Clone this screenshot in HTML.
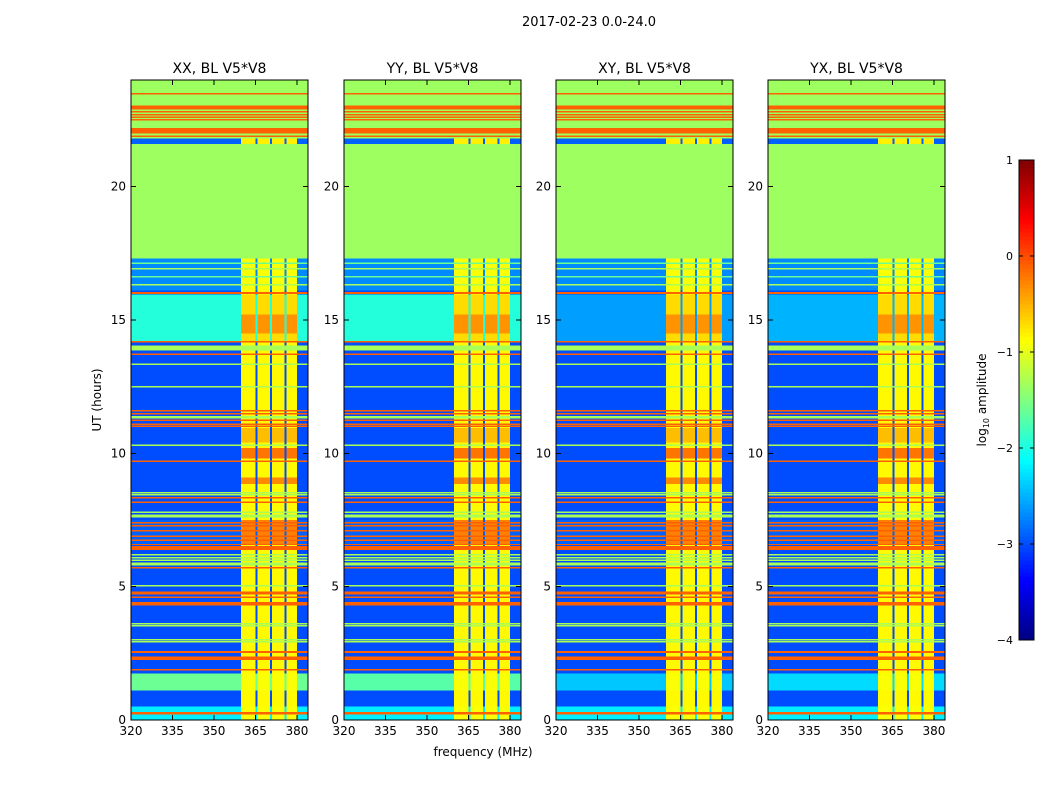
<!DOCTYPE html>
<html><head><meta charset="utf-8">
<style>
body{margin:0;background:#fff;}
svg{display:block;font-family:"DejaVu Sans","Liberation Sans",sans-serif;}
</style></head>
<body>
<svg id="fig" width="1050" height="800" viewBox="0 0 1050 800">
<text x="589" y="26" font-size="13" text-anchor="middle">2017-02-23 0.0-24.0</text>
<text x="483" y="756" font-size="12" text-anchor="middle">frequency (MHz)</text>
<text x="101" y="400" font-size="12" text-anchor="middle" transform="rotate(-90 101 400)">UT (hours)</text>
<g id="panels" shape-rendering="crispEdges"></g>
<g id="cbar"></g>
</svg>
<script>
// ---- data ----
const panelTitles = ["XX, BL V5*V8","YY, BL V5*V8","XY, BL V5*V8","YX, BL V5*V8"];
const xTicks = [320,335,350,365,380];
const yTicks = [0,5,10,15,20];
const cbTicks = [1,0,-1,-2,-3,-4];
const cbTickLabels = ["1","0","\u22121","\u22122","\u22123","\u22124"];
// per-panel values for regions that differ between polarisations
const cyanUpper = [-1.95,-1.95,-2.6,-2.5];
const cyanLower = [-1.6,-1.7,-2.4,-2.3];
// frequency groups: [f0, f1, kind] kind 'hi' = bright RFI columns
const freqGroups = [[320,359.8,"bg"],[359.8,365,"hi"],[365,365.8,"bg"],[365.8,370.2,"hi"],[370.2,371,"bg"],[371,375.5,"hi"],[375.5,376.3,"bg"],[376.3,380,"hi"],[380,384,"bg"]];
// time bands: [t0, t1, backgroundValue, brightColumnValue] (log10 amplitude)
const bands = [
[0,17.3,-3.0,-0.85],[17.3,24,-1.35,-1.35],
[0,0.5,-2.2,-0.9],[0.2,0.3,-0.1,-0.1],[1.1,1.75,"L",-0.9],[1.85,1.92,-0.1,-0.1],
[2.25,2.38,-0.1,-0.1],[2.52,2.58,-0.1,-0.1],[2.93,2.97,-1.3,-1.3],[3.0,3.04,-1.3,-1.3],
[3.52,3.56,-1.3,-1.3],[3.6,3.64,-1.3,-1.3],[4.3,4.42,-0.1,-0.1],[4.58,4.64,-0.1,-0.1],[4.7,4.82,-0.1,-0.1],
[5.03,5.07,-1.3,-1.3],[5.68,5.74,-0.1,-0.1],[5.8,5.9,-1.3,-1.3],[5.98,6.02,-1.3,-1.3],[6.08,6.12,-1.3,-1.3],[6.18,6.22,-1.3,-1.3],
[6.38,6.52,-0.1,-0.1],[6.58,6.62,-0.1,-0.1],[6.6,7.5,-2.9,-0.25],[6.73,6.77,-0.1,-0.1],[6.88,6.92,-0.1,-0.1],
[7.08,7.12,-0.1,-0.1],[7.28,7.32,-0.1,-0.1],[7.38,7.42,-0.1,-0.1],[7.6,7.7,-1.3,-1.3],[7.78,7.82,-1.3,-1.3],
[8.15,8.19,-0.1,-0.1],[8.3,8.36,-0.1,-0.1],[8.45,8.48,-1.3,-1.3],[8.52,8.55,-1.3,-1.3],[8.85,9.1,-3.0,-0.3],
[9.7,9.74,-0.1,-0.1],[9.8,10.2,-3.0,-0.2],[10.3,10.34,-1.3,-1.3],[10.4,10.95,-3.0,-0.55],
[10.98,11.04,-0.1,-0.1],[11.08,11.12,-0.1,-0.1],[11.23,11.27,-0.1,-0.1],[11.3,11.4,-1.3,-1.3],
[11.45,11.52,-0.1,-0.1],[11.58,11.62,-0.1,-0.1],[12.48,12.52,-1.3,-1.3],[13.33,13.37,-1.3,-1.3],
[13.68,13.74,-0.1,-0.1],[13.85,14.05,-1.3,-1.3],[14.15,14.22,-0.1,-0.1],[14.22,15.95,"U",-0.7],
[14.5,15.2,"U",-0.35],[15.98,16.05,-0.1,-0.1],[16.1,17.3,-2.7,-0.9],[16.3,16.35,-1.3,-1.3],
[16.6,16.65,-1.6,-1.6],[16.9,16.95,-1.3,-1.3],[17.1,17.15,-1.6,-1.6],
[21.6,21.8,-2.9,-0.8],[21.87,21.92,-0.1,-0.1],[22.0,22.2,-0.1,-0.1],[22.5,22.53,-0.1,-0.1],
[22.6,22.63,-0.1,-0.1],[22.7,22.73,-0.1,-0.1],[22.8,22.83,-0.1,-0.1],[22.9,23.05,-0.1,-0.1],[23.48,23.52,-0.1,-0.1]
];
// ---- layout ----
const NS="http://www.w3.org/2000/svg";
const panelLeft=[131,344,556,768], PW=177, PT=80, PB=720;
const fMin=320,fMax=384,tMin=0,tMax=24,vMin=-4,vMax=1;
function yOf(t){return PB-(t-tMin)/(tMax-tMin)*(PB-PT);}
function xOf(p,f){return panelLeft[p]+(f-fMin)/(fMax-fMin)*PW;}
function clamp(a){return Math.max(0,Math.min(1,a));}
function jet(v){const n=clamp((v-vMin)/(vMax-vMin));
 const r=clamp(1.5-Math.abs(4*n-3)),g=clamp(1.5-Math.abs(4*n-2)),b=clamp(1.5-Math.abs(4*n-1));
 return `rgb(${Math.round(r*255)},${Math.round(g*255)},${Math.round(b*255)})`;}
function mk(tag,attrs,parent){const e=document.createElementNS(NS,tag);for(const k in attrs)e.setAttribute(k,attrs[k]);parent.appendChild(e);return e;}
const G=document.getElementById("panels");
panelTitles.forEach((title,p)=>{
 const g=mk("g",{},G);
 
 
 bands.forEach(b=>{
  let bg=b[2]; if(bg==="U")bg=cyanUpper[p]; if(bg==="L")bg=cyanLower[p];
  const y1=yOf(b[1]),y0=yOf(b[0]);
  const h=Math.max(1.5,y0-y1);
  freqGroups.forEach(fg=>{
   const v=fg[2]==="hi"?b[3]:bg;
   const x0=xOf(p,fg[0]),x1=xOf(p,fg[1]);
   const r=mk("rect",{x:x0.toFixed(2),y:y1.toFixed(2),width:(x1-x0+0.3).toFixed(2),height:h.toFixed(2),fill:jet(v)},g);
   
   
  });
 });
 const L=panelLeft[p];
 const fr=mk("rect",{x:L,y:PT,width:PW,height:PB-PT,fill:"none",stroke:"#000","stroke-width":1},g);
 
 
 const tt=mk("text",{x:L+PW/2,y:PT-7,"font-size":14,"text-anchor":"middle"},g);
 tt.textContent=title;
 
 
 xTicks.forEach((f,i)=>{
  const x=xOf(p,f);
  mk("line",{x1:x,y1:PB,x2:x,y2:PB-5,stroke:"#000"},g);
  mk("line",{x1:x,y1:PT,x2:x,y2:PT+5,stroke:"#000"},g);
  const t=mk("text",{x:x,y:PB+15,"font-size":12,"text-anchor":"middle"},g);
  t.textContent=String(f);
  
  
 });
 yTicks.forEach(v=>{
  const y=yOf(v);
  mk("line",{x1:L,y1:y,x2:L+5,y2:y,stroke:"#000"},g);
  mk("line",{x1:L+PW,y1:y,x2:L+PW-5,y2:y,stroke:"#000"},g);
  const t=mk("text",{x:L-5,y:y+4,"font-size":12,"text-anchor":"end"},g);
  t.textContent=String(v);
  
  
 });
});
// colorbar
const C=document.getElementById("cbar");
const cbX=1019,cbW=15,cbT=160,cbB=640;
function cbY(v){return cbB-(v-vMin)/(vMax-vMin)*(cbB-cbT);}
for(let i=0;i<120;i++){
 const v0=vMin+(vMax-vMin)*i/120, v1=vMin+(vMax-vMin)*(i+1)/120;
 const r=mk("rect",{x:cbX,y:cbY(v1).toFixed(2),width:cbW,height:(cbY(v0)-cbY(v1)+0.5).toFixed(2),fill:jet((v0+v1)/2)},C);
 
 
}
mk("rect",{x:cbX,y:cbT,width:cbW,height:cbB-cbT,fill:"none",stroke:"#000"},C);
cbTicks.forEach((v,i)=>{
 const y=cbY(v);
 mk("line",{x1:cbX,y1:y,x2:cbX+4,y2:y,stroke:"#000"},C);
 mk("line",{x1:cbX+cbW,y1:y,x2:cbX+cbW-4,y2:y,stroke:"#000"},C);
 const t=mk("text",{x:cbX-6,y:y+4,"font-size":11,"text-anchor":"end"},C);
 t.textContent=cbTickLabels[i];
 
 
});
const lab=mk("text",{x:986,y:400,"font-size":12,"text-anchor":"middle",transform:"rotate(-90 986 400)"},C);
lab.innerHTML='log<tspan font-size="8" dy="3">10</tspan><tspan dy="-3"> amplitude</tspan>';


</script>
</body></html>
